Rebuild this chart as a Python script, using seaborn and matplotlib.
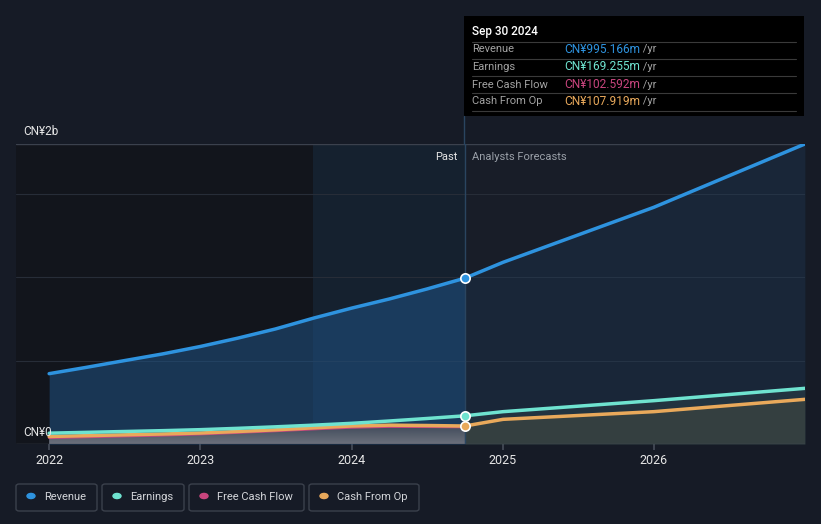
import numpy as np
import pandas as pd
import seaborn as sns
import matplotlib.pyplot as plt
from matplotlib.patches import FancyBboxPatch, Circle
from matplotlib.lines import Line2D
from matplotlib.text import Annotation
from matplotlib.colors import LinearSegmentedColormap

# values in CN¥ billions
past_dates = ["2021-12-31", "2022-03-31", "2022-06-30", "2022-09-30", "2022-12-31", "2023-03-31",
              "2023-06-30", "2023-09-30", "2023-12-31", "2024-03-31", "2024-06-30", "2024-09-30"]
revenue_past = [0.422, 0.46, 0.50, 0.54, 0.585, 0.635, 0.69, 0.755, 0.815, 0.87, 0.93, 0.995166]
earnings_past = [0.065, 0.07, 0.075, 0.08, 0.086, 0.094, 0.103, 0.113, 0.124, 0.138, 0.153, 0.169255]
fcf_past = [0.038, 0.043, 0.048, 0.053, 0.06, 0.069, 0.079, 0.09, 0.100, 0.105, 0.104, 0.102592]
cfo_past = [0.045, 0.05, 0.055, 0.06, 0.066, 0.075, 0.085, 0.097, 0.108, 0.113, 0.111, 0.107919]

fc_dates = ["2024-09-30", "2024-12-31", "2025-12-31", "2026-12-31"]
revenue_fc = [0.995166, 1.09, 1.42, 1.80]
earnings_fc = [0.169255, 0.194, 0.26, 0.334]
cfo_fc = [0.107919, 0.148, 0.194, 0.268]

year_ticks = [2022, 2023, 2024, 2025, 2026]
tooltip_rows = [("Revenue", "CN¥995.166m"), ("Earnings", "CN¥169.255m"),
                ("Free Cash Flow", "CN¥102.592m"), ("Cash From Op", "CN¥107.919m")]
legend_names = ["Revenue", "Earnings", "Free Cash Flow", "Cash From Op"]

C_REV = "#2e93df"
C_EARN = "#6fe3d0"
C_FCF = "#c9457e"
C_CFO = "#e9a95b"
colors = [C_REV, C_EARN, C_FCF, C_CFO]
BG = "#161b26"


def dec_year(dates):
    d = pd.to_datetime(pd.Series(dates))
    return (d.dt.year + (d.dt.dayofyear) / 365.25).to_numpy()


xp = dec_year(past_dates)
xf = dec_year(fc_dates)
past = pd.DataFrame({"x": xp, "Revenue": revenue_past, "Earnings": earnings_past,
                     "FCF": fcf_past, "CFO": cfo_past})
fc = pd.DataFrame({"x": xf, "Revenue": revenue_fc, "Earnings": earnings_fc, "CFO": cfo_fc})

sns.set_theme(style="dark")
plt.rcParams["font.family"] = ["Roboto", "DejaVu Sans"]

W, H = 821, 524
fig = plt.figure(figsize=(W / 100, H / 100), dpi=100, facecolor=BG)
ax = fig.add_axes([16 / W, 80 / H, (805 - 16) / W, 300 / H])
ax.set_facecolor("#181d28")

x0, x1 = 2021.78, 2027.0
y0, y1 = 0, 1.8
split = xp[-1]
hl_start = dec_year(["2023-09-30"])[0]

ax.axvspan(x0, hl_start, color="#12151c", zorder=0, lw=0)
ax.axvspan(hl_start, split, color="#15212f", zorder=0, lw=0)

# gridlines
for g in [0.5, 1.0, 1.5]:
    ax.axhline(g, color="#272d38", lw=0.8, zorder=1)
ax.axhline(1.8, color="#3b414d", lw=1, zorder=1)
ax.axhline(0, color="#454b57", lw=1, zorder=6)

# fills
ax.fill_between(past["x"], past["Revenue"], 0, color="#1f5283", alpha=0.55, lw=0, zorder=2)
ax.fill_between(fc["x"], fc["Revenue"], 0, color="#1f4f7a", alpha=0.2, lw=0, zorder=2)

# gray gradient under cash lines in the past
poly = ax.fill_between(past["x"], past["CFO"], 0, color="none", lw=0)
grad = np.linspace(0, 1, 100).reshape(-1, 1)
cmap = LinearSegmentedColormap.from_list("g", ["#6c707c", "#3a4656"])
img = ax.imshow(grad, extent=[xp[0], split, 0, 0.125], origin="lower", aspect="auto",
                cmap=cmap, zorder=3)
img.set_clip_path(poly.get_paths()[0], transform=ax.transData)

ax.fill_between(fc["x"], fc["Earnings"], fc["CFO"], color="#2b4048", alpha=0.5, lw=0, zorder=2)
ax.fill_between(fc["x"], fc["CFO"], 0, color="#4b5548", alpha=0.55, lw=0, zorder=3)

# past / forecast divider
ax.axvline(split, color="#2a4560", lw=1, zorder=3.5)

# lines
sns.lineplot(data=past, x="x", y="FCF", color=C_FCF, lw=2, ax=ax, zorder=4)
sns.lineplot(data=past, x="x", y="CFO", color=C_CFO, lw=2.5, ax=ax, zorder=4)
sns.lineplot(data=past, x="x", y="Earnings", color=C_EARN, lw=2.5, ax=ax, zorder=4)
sns.lineplot(data=past, x="x", y="Revenue", color=C_REV, lw=2.5, ax=ax, zorder=4)
sns.lineplot(data=fc, x="x", y="CFO", color=C_CFO, lw=2.5, ax=ax, zorder=4)
sns.lineplot(data=fc, x="x", y="Earnings", color=C_EARN, lw=2.5, ax=ax, zorder=4)
sns.lineplot(data=fc, x="x", y="Revenue", color=C_REV, lw=2.5, ax=ax, zorder=4)

for col, c in [("Revenue", C_REV), ("Earnings", C_EARN), ("CFO", C_CFO)]:
    ax.scatter([split], [past[col].iloc[-1]], s=45, color=c, edgecolor="white", lw=1.2, zorder=7)

ax.set_xlim(x0, x1)
ax.set_ylim(y0, y1)
ax.set_xlabel("")
ax.set_ylabel("")
ax.set_yticks([])
ax.set_xticks(year_ticks)
ax.set_xticklabels([str(y) for y in year_ticks], color="#e6e6e6", fontsize=9)
ax.tick_params(axis="x", length=4, color="#454b57", pad=3, bottom=True)
for s in ax.spines.values():
    s.set_visible(False)
ax.grid(False)

# divider continues up to the tooltip
fig.add_artist(Line2D([464 / W, 464 / W], [1 - 144 / H, 1 - 116 / H], color="#2a4560", lw=1))

# axis labels
ax.text(x0 + 0.05, 1.872, "CN¥2b", color="#e6e6e6", fontsize=8.5, va="center", clip_on=False)
ax.text(x0 + 0.05, 0.072, "CN¥0", color="#e6e6e6", fontsize=8.5, va="center", zorder=8)
ax.text(split - 0.05, 1.72, "Past", color="#e6e6e6", fontsize=8, ha="right", va="center")
ax.text(split + 0.05, 1.72, "Analysts Forecasts", color="#9aa0a8", fontsize=8, ha="left", va="center")


def fx(px):
    return px / W


def fy(py):
    return 1 - py / H


# tooltip
fig.add_artist(FancyBboxPatch((fx(464), fy(116)), fx(804) - fx(464), fy(16) - fy(116),
                              boxstyle="square,pad=0", fc="black", ec="none"))
fig.text(fx(472), fy(31), "Sep 30 2024", color="white", fontsize=8.5, va="center", fontweight="medium")
for yy in [41.5, 58.5, 76, 93, 110.5]:
    fig.add_artist(Line2D([fx(472), fx(796)], [fy(yy), fy(yy)], color="#3a3a3a", lw=0.8))
for (name, val), c, yy in zip(tooltip_rows, colors, [49.5, 66.5, 84.5, 101.5]):
    fig.text(fx(472), fy(yy), name, color="#a3a3a3", fontsize=8, va="center")
    t = fig.text(fx(564), fy(yy), val, color=c, fontsize=8.6, va="center")
    a = Annotation(" /yr", xy=(1, 0.5), xycoords=t, va="center", ha="left", color="#a3a3a3",
                   fontsize=8, annotation_clip=False)
    a.set_zorder(5)
    fig.add_artist(a)

# legend
boxes = [(16, 97), (102, 184), (189, 304), (309, 419)]
for (bx0, bx1), name, c in zip(boxes, legend_names, colors):
    fig.add_artist(FancyBboxPatch((fx(bx0), fy(511)), fx(bx1) - fx(bx0), fy(484) - fy(511),
                                  boxstyle="round,pad=0,rounding_size=0.004", fc="none",
                                  ec="#3b414c", lw=1))
    fig.add_artist(Circle((fx(bx0 + 15), fy(496)), radius=4 / W, color=c))
    fig.text(fx(bx0 + 28), fy(496.5), name, color="#d4d6da", fontsize=8, va="center")

fig.savefig("out.png", dpi=100, facecolor=BG)
